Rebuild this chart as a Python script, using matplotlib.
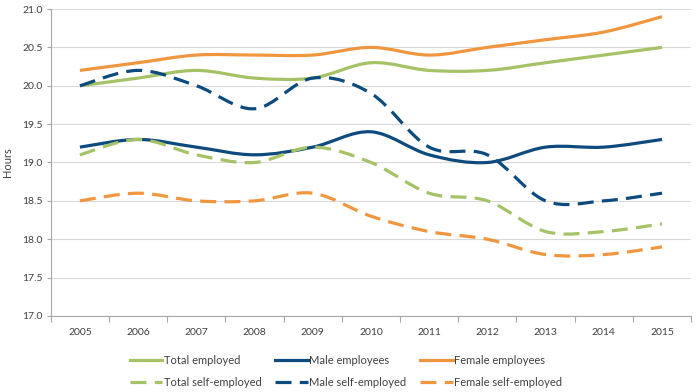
import numpy as np
import matplotlib
matplotlib.use("Agg")
from matplotlib import pyplot as plt
from matplotlib.path import Path
from matplotlib.patches import PathPatch
from matplotlib.lines import Line2D

plt.rcParams['font.family'] = ['Lato', 'DejaVu Sans']

years = ['2005', '2006', '2007', '2008', '2009', '2010', '2011', '2012', '2013', '2014', '2015']

total_employed = [20.0, 20.1, 20.2, 20.1, 20.1, 20.3, 20.2, 20.2, 20.3, 20.4, 20.5]
male_employees = [19.2, 19.3, 19.2, 19.1, 19.2, 19.4, 19.1, 19.0, 19.2, 19.2, 19.3]
female_employees = [20.2, 20.3, 20.4, 20.4, 20.4, 20.5, 20.4, 20.5, 20.6, 20.7, 20.9]
total_self = [19.1, 19.3, 19.1, 19.0, 19.2, 19.0, 18.6, 18.5, 18.1, 18.1, 18.2]
male_self = [20.0, 20.2, 20.0, 19.7, 20.1, 19.9, 19.2, 19.1, 18.5, 18.5, 18.6]
female_self = [18.5, 18.6, 18.5, 18.5, 18.6, 18.3, 18.1, 18.0, 17.8, 17.8, 17.9]

green = '#A5C266'
navy = '#0D4B7E'
orange = '#F0963F'

series = [
    ('Total employed', total_employed, green, '-'),
    ('Male employees', male_employees, navy, '-'),
    ('Female employees', female_employees, orange, '-'),
    ('Total self-employed', total_self, green, '--'),
    ('Male self-employed', male_self, navy, '--'),
    ('Female self-employed', female_self, orange, '--'),
]


def smooth_path(x, y):
    # Excel-style smoothed line: cubic Bezier segments (Catmull-Rom control points)
    x = np.asarray(x, float)
    y = np.asarray(y, float)
    verts = [(x[0], y[0])]
    codes = [Path.MOVETO]
    n = len(x)
    for i in range(n - 1):
        x0, y0 = (x[i - 1], y[i - 1]) if i > 0 else (x[i], y[i])
        x3, y3 = (x[i + 2], y[i + 2]) if i + 2 < n else (x[i + 1], y[i + 1])
        c1 = (x[i] + (x[i + 1] - x0) / 6, y[i] + (y[i + 1] - y0) / 6)
        c2 = (x[i + 1] - (x3 - x[i]) / 6, y[i + 1] - (y3 - y[i]) / 6)
        verts += [c1, c2, (x[i + 1], y[i + 1])]
        codes += [Path.CURVE4] * 3
    return Path(verts, codes)


fig = plt.figure(figsize=(6.96, 3.92), dpi=100)
ax = fig.add_axes([0.073, 0.194, 0.92, 0.783])

xs = np.arange(len(years))
lw = 2.3
for name, vals, col, ls in series:
    dash = (0, (5, 2.6)) if ls == '--' else 'solid'
    patch = PathPatch(smooth_path(xs, vals), facecolor='none', edgecolor=col,
                      linewidth=lw, linestyle=dash, capstyle='butt', zorder=3)
    ax.add_patch(patch)

ax.set_xlim(-0.5, len(years) - 0.5)
ax.set_ylim(17.0, 21.0)
ax.set_yticks(np.arange(17.0, 21.01, 0.5))
ax.set_yticklabels(['%.1f' % v for v in np.arange(17.0, 21.01, 0.5)])
ax.set_xticks(xs)
ax.set_xticklabels(years)
ax.set_xticks(np.arange(-0.5, len(years)), minor=True)
ax.tick_params(axis='x', which='major', length=0, pad=9, labelsize=7.5, colors='#404040')
ax.tick_params(axis='x', which='minor', length=4, color='#A6A6A6', width=0.8)
ax.tick_params(axis='y', length=3, width=0.8, labelsize=7.5, pad=3,
               color='#A6A6A6', labelcolor='#404040')

ax.grid(axis='y', color='#D9D9D9', linewidth=0.8)
ax.set_axisbelow(True)
for s in ['top', 'right']:
    ax.spines[s].set_visible(False)
for s in ['left', 'bottom']:
    ax.spines[s].set_color('#A6A6A6')
    ax.spines[s].set_linewidth(0.8)

ax.set_ylabel('Hours', fontsize=8, color='#404040')
ax.yaxis.set_label_coords(-0.059, 0.5)

# legend filled column by column, so reorder to get row-wise layout
order = [0, 3, 1, 4, 2, 5]
handles, labels = [], []
for i in order:
    name, vals, col, ls = series[i]
    dash = (0, (5, 2.6)) if ls == '--' else 'solid'
    handles.append(Line2D([], [], color=col, linewidth=lw, linestyle=dash))
    labels.append(name)
leg = fig.legend(handles, labels, ncol=3, loc='lower left',
                 bbox_to_anchor=(0.172, -0.016), frameon=False, fontsize=8,
                 handlelength=2.95, handletextpad=0.1, columnspacing=1.25,
                 labelspacing=1.05, labelcolor='#404040')

fig.savefig('out.png', dpi=100)
